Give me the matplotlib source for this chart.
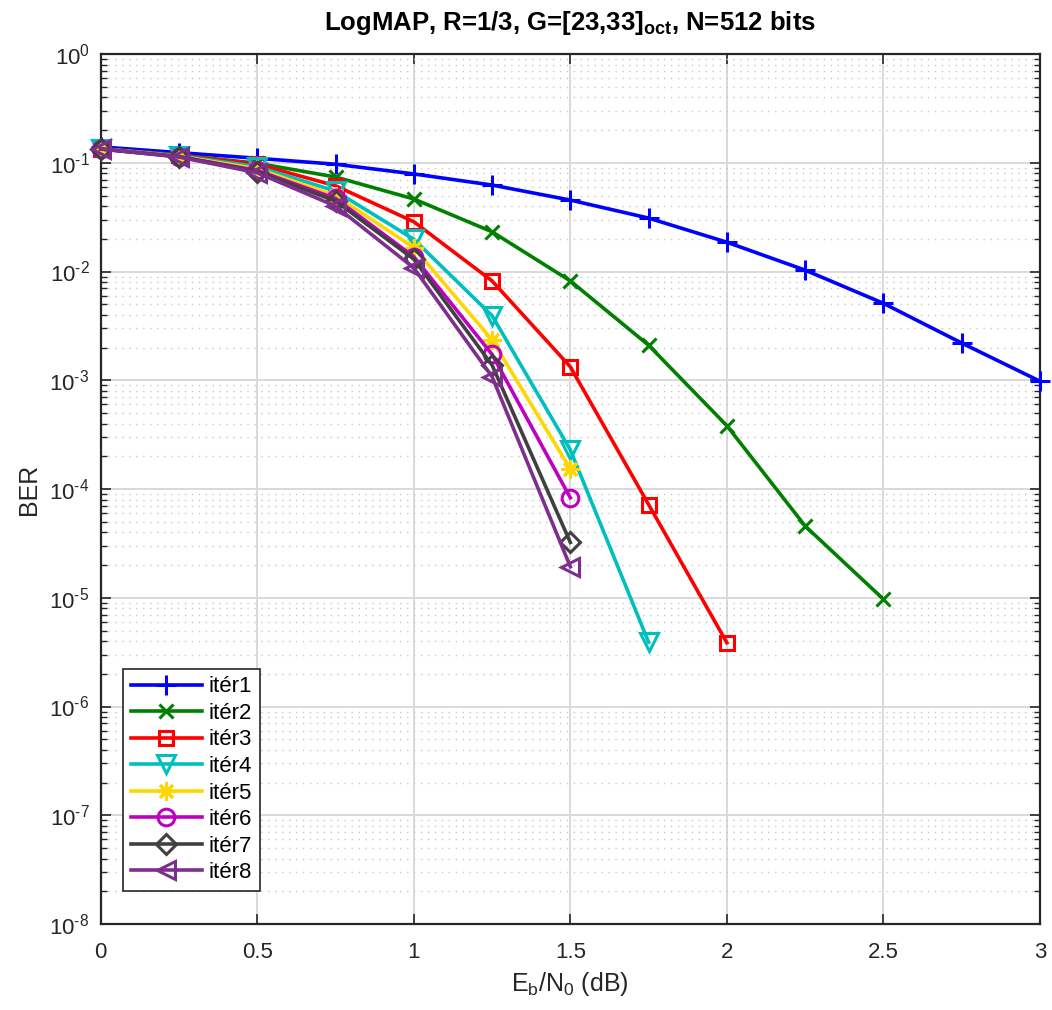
import numpy as np
import matplotlib
matplotlib.use('Agg')
import matplotlib.pyplot as plt
from matplotlib.ticker import FixedLocator, LogLocator, NullFormatter

plt.rcParams['font.family'] = ['Liberation Sans', 'DejaVu Sans']
plt.rcParams['mathtext.fontset'] = 'custom'
plt.rcParams['mathtext.rm'] = 'Liberation Sans'
plt.rcParams['mathtext.it'] = 'Liberation Sans:italic'
plt.rcParams['mathtext.bf'] = 'Liberation Sans:bold'

# Eb/N0 grid (dB)
ebn0 = [0, 0.25, 0.5, 0.75, 1.0, 1.25, 1.5, 1.75, 2.0, 2.25, 2.5, 2.75, 3.0]

# BER per iteration
ber_it1 = [0.140, 0.124, 0.110, 0.097, 0.079, 0.0624, 0.0454, 0.031, 0.0186, 0.0103, 0.0051, 0.0022, 0.00098]
ber_it2 = [0.135, 0.118, 0.099, 0.074, 0.0465, 0.0232, 0.0082, 0.0021, 3.82e-4, 4.57e-5, 9.7e-6]
ber_it3 = [0.135, 0.117, 0.097, 0.0615, 0.0287, 0.0082, 0.00133, 7.2e-5, 3.86e-6]
ber_it4 = [0.135, 0.116, 0.092, 0.055, 0.0198, 0.00393, 2.29e-4, 3.9e-6]
ber_it5 = [0.134, 0.115, 0.088, 0.050, 0.0166, 0.00235, 1.53e-4]
ber_it6 = [0.134, 0.114, 0.085, 0.047, 0.0137, 0.00173, 8.3e-5]
ber_it7 = [0.134, 0.114, 0.083, 0.0445, 0.013, 0.00138, 3.23e-5]
ber_it8 = [0.134, 0.113, 0.081, 0.040, 0.0108, 0.00108, 1.93e-5]

series = [ber_it1, ber_it2, ber_it3, ber_it4, ber_it5, ber_it6, ber_it7, ber_it8]
labels = ['itér1', 'itér2', 'itér3', 'itér4', 'itér5', 'itér6', 'itér7', 'itér8']
colors = ['#0000ff', '#008000', '#ff0000', '#00bfbf', '#ffd700', '#bf00bf', '#404040', '#7e2f8e']
markers = ['+', 'x', 's', 'v', (8, 2, 0), 'o', 'D', '<']
msizes = [14, 10, 10, 13, 13, 12, 10, 13]

ydec = [-8, -7, -6, -5, -4, -3, -2, -1, 0]

fig = plt.figure(figsize=(10.52, 10.10), dpi=100)
ax = fig.add_axes([0.0957, 0.0851, 0.8929, 0.8614])

for y, lab, c, m, ms in zip(series, labels, colors, markers, msizes):
    x = ebn0[:len(y)]
    ax.plot(x, y, color=c, lw=2.6, marker=m, ms=ms, mfc='none', mec=c, mew=2.2,
            label=lab, clip_on=False, zorder=3)

ax.set_yscale('log')
ax.set_xlim(0, 3)
ax.set_ylim(1e-8, 1)
ax.set_xticks([0, 0.5, 1, 1.5, 2, 2.5, 3])
ax.set_xticklabels(['0', '0.5', '1', '1.5', '2', '2.5', '3'])
ax.yaxis.set_major_locator(FixedLocator([10.0 ** d for d in ydec]))
ax.set_yticklabels(['$10^{\\text{%d}}$' % d for d in ydec])
ax.yaxis.set_minor_locator(LogLocator(base=10, subs=np.arange(2, 10), numticks=100))
ax.yaxis.set_minor_formatter(NullFormatter())

ax.grid(True, which='major', color='#d9d9d9', lw=1.4, zorder=0)
ax.grid(True, which='minor', axis='y', color='#c8c8c8', lw=1.0, ls=(0, (1, 4)), zorder=0)
ax.set_axisbelow(True)

ax.tick_params(which='both', direction='in', top=True, right=True, labelsize=16,
               colors='#262626', labelcolor='#262626')
ax.tick_params(which='major', length=7, width=1.2)
ax.tick_params(which='minor', length=4, width=1.0)
ax.tick_params(axis='x', pad=13)
ax.tick_params(axis='y', pad=8)
for s in ax.spines.values():
    s.set_color('#262626')
    s.set_linewidth(1.6)

ax.set_xlabel('E$_\\mathregular{b}$/N$_\\mathregular{0}$ (dB)', fontsize=18, color='#262626', labelpad=5)
ax.set_ylabel('BER', fontsize=18, color='#262626', labelpad=6)
ax.set_title('LogMAP, R=1/3, G=[23,33]$_{\\mathbf{oct}}$, N=512 bits',
             fontsize=18.5, fontweight='bold', color='black', pad=17)

leg = ax.legend(loc='lower left', bbox_to_anchor=(0.0237, 0.038), borderaxespad=0,
                fontsize=16, handlelength=3.2, handletextpad=0.3, labelspacing=0.25,
                borderpad=0.35, fancybox=False, framealpha=1, edgecolor='#262626')
leg.get_frame().set_linewidth(1.2)

fig.savefig('out.png', dpi=100)
